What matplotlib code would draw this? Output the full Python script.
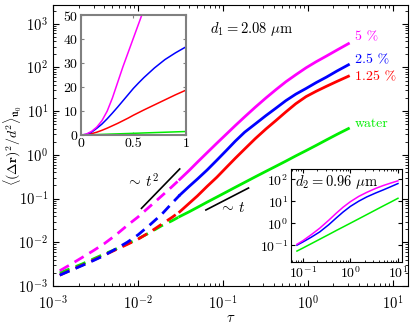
import numpy as np
import matplotlib
matplotlib.use("Agg")
import matplotlib.pyplot as plt

plt.rcParams['font.family'] = 'serif'
plt.rcParams['font.serif'] = ['cmr10', 'DejaVu Serif']
plt.rcParams['mathtext.fontset'] = 'cm'
plt.rcParams['axes.formatter.use_mathtext'] = True
plt.rcParams['axes.unicode_minus'] = False

# ---- main panel data (d1 = 2.08 um) ----
tau = [1.2e-3, 1.6e-3, 2.2e-3, 3e-3, 4e-3, 5.5e-3, 7.5e-3, 0.01, 0.014, 0.019, 0.025,
       0.031, 0.04, 0.05, 0.065, 0.085, 0.11, 0.14, 0.18, 0.24, 0.32, 0.42, 0.55,
       0.72, 0.95, 1.25, 1.65, 2.2, 3.0]
msd_5 = [2.24e-3, 3.1e-3, 4.5e-3, 6.5e-3, 9.3e-3, 0.0148, 0.0245, 0.038, 0.068, 0.115, 0.186,
         0.275, 0.44, 0.68, 1.12, 1.86, 3.0, 4.7, 7.4, 12.3, 20, 31, 47,
         68, 98, 135, 182, 250, 350]
msd_25 = [1.78e-3, 2.26e-3, 2.95e-3, 3.85e-3, 5.0e-3, 7.1e-3, 0.0101, 0.0148, 0.0257, 0.0437, 0.0776,
          0.12, 0.19, 0.28, 0.45, 0.76, 1.27, 2.07, 3.3, 5.1, 7.9, 11.7, 17.4,
          24.5, 33, 45, 60, 83, 115]
msd_125 = [1.78e-3, 2.3e-3, 3.0e-3, 3.95e-3, 5.1e-3, 6.8e-3, 9.0e-3, 0.0118, 0.0174, 0.026, 0.037,
           0.05, 0.078, 0.115, 0.19, 0.31, 0.52, 0.84, 1.36, 2.35, 3.9, 6.1, 9.6,
           14.8, 21.5, 28.5, 37, 48, 63]
msd_water = [2.0e-3, 2.5e-3, 3.2e-3, 4.2e-3, 5.4e-3, 7.0e-3, 9.3e-3, 0.012, 0.017, 0.024, 0.031,
             0.039, 0.05, 0.063, 0.083, 0.109, 0.142, 0.182, 0.235, 0.315, 0.42, 0.55, 0.72,
             0.95, 1.25, 1.65, 2.2, 2.95, 4.0]
tau_switch = 0.031

series_labels = ['5 %', '2.5 %', '1.25 %', 'water']
series_colors = ['#ff00ff', '#0000ff', '#ff0000', '#00ee00']

# guide lines
guide_t2_tau = [0.011, 0.031]
guide_t2_val = [0.06, 0.477]
guide_t1_tau = [0.063, 0.2]
guide_t1_val = [0.055, 0.175]

# ---- inset 1 (linear axes) ----
tau_lin_5 = [0.0, 0.05, 0.1, 0.15, 0.2, 0.25, 0.3, 0.35, 0.4, 0.45, 0.5, 0.55, 0.6]
lin_5 = [0.0, 0.4, 1.5, 3.3, 6.0, 10, 15.5, 22, 28.5, 34.5, 40.5, 46.5, 52.5]
tau_lin = [0.0, 0.05, 0.1, 0.15, 0.2, 0.25, 0.3, 0.35, 0.4, 0.45, 0.5, 0.55, 0.6,
           0.7, 0.8, 0.9, 1.0]
lin_25 = [0.0, 0.3, 1.2, 2.8, 4.6, 6.8, 9.2, 11.7, 14.3, 16.9, 19.5, 21.8, 24,
          28, 31.5, 34.3, 36.8]
lin_125 = [0.0, 0.15, 0.6, 1.2, 2.0, 2.9, 3.9, 4.9, 6.0, 7.1, 8.3, 9.4, 10.5,
           12.6, 14.7, 16.8, 18.75]
lin_water = [0.0, 0.07, 0.15, 0.22, 0.3, 0.37, 0.45, 0.52, 0.6, 0.67, 0.75, 0.82, 0.9,
             1.05, 1.2, 1.35, 1.5]

# ---- inset 2 (d2 = 0.96 um) ----
tau2 = [0.075, 0.1, 0.15, 0.226, 0.35, 0.5, 0.7, 1.0, 1.5, 2.2, 3.4, 5.0, 7.0, 10.0]
ins2_5 = [0.11, 0.16, 0.3, 0.59, 1.36, 2.8, 5.3, 9.5, 16.5, 25, 38, 52, 66, 84]
ins2_25 = [0.1, 0.14, 0.23, 0.4, 0.85, 1.7, 3.2, 5.8, 10, 15.5, 23.5, 33, 45, 63]
ins2_water = [0.054, 0.074, 0.117, 0.186, 0.305, 0.46, 0.67, 1.0, 1.58, 2.44, 4.0, 6.2, 9.0, 13.5]

fig = plt.figure(figsize=(4.15, 3.24), dpi=100)
ax = fig.add_axes([0.1277, 0.117, 0.855, 0.868])

tau_a = np.array(tau)
main_series = [msd_5, msd_25, msd_125, msd_water]
for vals, col in zip(main_series[::-1], series_colors[::-1]):
    v = np.array(vals)
    m1 = tau_a <= tau_switch
    m2 = tau_a >= tau_switch
    ax.plot(tau_a[m1], v[m1], color=col, lw=2.0, ls=(0, (3.8, 2.4)))
    ax.plot(tau_a[m2], v[m2], color=col, lw=2.0)

ax.plot(guide_t2_tau, guide_t2_val, color='black', lw=1.2)
ax.plot(guide_t1_tau, guide_t1_val, color='black', lw=1.2)
ax.text(0.0115, 0.25, r'$\sim\, t^2$', fontsize=11, ha='center', va='center')
ax.text(0.13, 0.061, r'$\sim\, t$', fontsize=11, ha='center', va='center')

label_y = [0.886, 0.804, 0.744, 0.577]
for lab, col, yy in zip(series_labels, series_colors, label_y):
    ax.text(0.851, yy, lab, color=col, fontsize=10, transform=ax.transAxes,
            ha='left', va='center')
ax.text(0.442, 0.915, r'$d_1 = 2.08\ \mu\mathrm{m}$', fontsize=10.5,
        transform=ax.transAxes, ha='left', va='center')

ax.set_xscale('log')
ax.set_yscale('log')
ax.set_xlim(1e-3, 15)
ax.set_ylim(1e-3, 2700)
ax.set_xticks([1e-3, 1e-2, 1e-1, 1e0, 1e1])
ax.set_yticks([1e-3, 1e-2, 1e-1, 1e0, 1e1, 1e2, 1e3])
ax.tick_params(which='both', direction='in', top=True, right=True, labelsize=10.5)
ax.tick_params(axis='x', which='major', pad=6)
ax.tick_params(which='major', length=4)
ax.tick_params(which='minor', length=2)
ax.set_xlabel(r'$\tau$', fontsize=10.5, labelpad=-1)
ax.set_ylabel(r'$\langle(\Delta\mathbf{r})^2/d^2\rangle_{\hat{\mathbf{u}}_0}$', fontsize=10)
ax.yaxis.set_label_coords(-0.082, 0.5)

# inset 1
ax1 = fig.add_axes([0.195, 0.583, 0.253, 0.370])
ax1.plot(tau_lin, lin_water, color=series_colors[3], lw=1.1)
ax1.plot(tau_lin, lin_125, color=series_colors[2], lw=1.1)
ax1.plot(tau_lin, lin_25, color=series_colors[1], lw=1.1)
ax1.plot(tau_lin_5, lin_5, color=series_colors[0], lw=1.1)
ax1.set_xlim(0, 1)
ax1.set_ylim(0, 50)
ax1.set_xticks([0, 0.5, 1])
ax1.set_xticklabels(['0', '0.5', '1'])
ax1.set_yticks([0, 10, 20, 30, 40, 50])
ax1.tick_params(direction='in', top=True, right=True, labelsize=10, length=2,
                color='#808080', pad=2)
for s in ax1.spines.values():
    s.set_color('#808080')
    s.set_linewidth(1.5)

# inset 2
ax2 = fig.add_axes([0.701, 0.191, 0.267, 0.287])
ax2.plot(tau2, ins2_water, color=series_colors[3], lw=1.1)
ax2.plot(tau2, ins2_25, color=series_colors[1], lw=1.1)
ax2.plot(tau2, ins2_5, color=series_colors[0], lw=1.1)
ax2.set_xscale('log')
ax2.set_yscale('log')
ax2.set_xlim(0.056, 12)
ax2.set_ylim(0.017, 285)
ax2.set_xticks([0.1, 1, 10])
ax2.set_yticks([0.1, 1, 10, 100])
ax2.tick_params(which='both', direction='in', top=True, right=True, labelsize=10, pad=2)
ax2.tick_params(which='major', length=3)
ax2.tick_params(which='minor', length=1.5)
ax2.text(0.036, 0.86, r'$d_2 = 0.96\ \mu\mathrm{m}$', fontsize=10.5,
         transform=ax2.transAxes, ha='left', va='center')

fig.savefig('out.png', dpi=100)
